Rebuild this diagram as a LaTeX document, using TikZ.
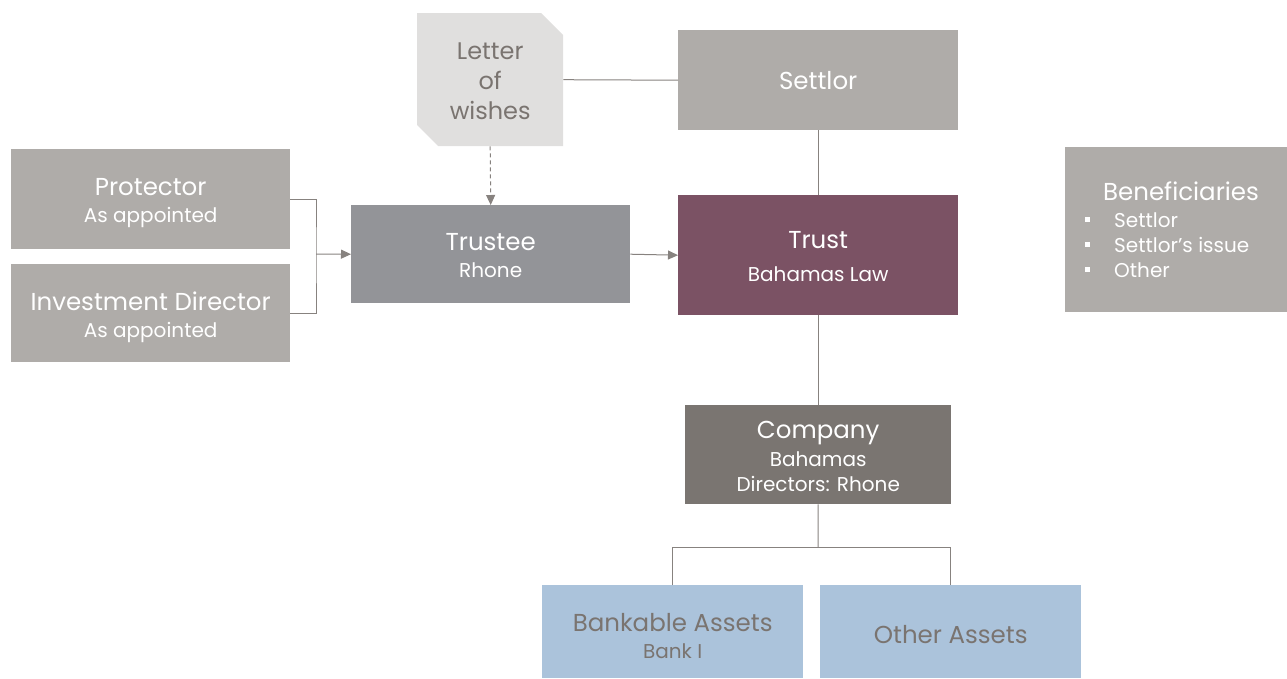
\documentclass[tikz,border=0pt]{standalone}
\usepackage{fontspec}
\setmainfont{Poppins}
\usetikzlibrary{arrows.meta}
\definecolor{boxgrey}{RGB}{175,172,169}
\definecolor{lightbox}{RGB}{224,223,222}
\definecolor{trusteec}{RGB}{147,148,152}
\definecolor{trustc}{RGB}{123,82,100}
\definecolor{companyc}{RGB}{122,117,113}
\definecolor{assetc}{RGB}{171,195,219}
\definecolor{darktext}{RGB}{122,116,112}
\definecolor{linec}{RGB}{135,130,127}
\newcommand\ttl{\fontsize{24.5}{28}\selectfont}
\newcommand\sbt{\fontsize{20}{27}\selectfont}
\begin{document}
\begin{tikzpicture}[x=1pt,y=-1pt,
  box/.style={anchor=north west, inner sep=0pt},
  txt/.style={inner sep=0pt, text=white, align=center, font=\sbt},
  conn/.style={draw=linec, line width=1pt},
  arr/.style={conn, -{Triangle[length=10pt,width=9pt]}}]
\useasboundingbox (0,0) rectangle (1287,678);
% boxes
\fill[lightbox] (417,13) -- (541,13) -- (563,35) -- (563,146) -- (438,146) -- (417,125) -- cycle;
\node[box, minimum width=146pt, minimum height=133pt] (lw) at (417,13) {};
\node[box, fill=boxgrey, minimum width=280pt, minimum height=100pt] (settlor) at (678,30) {};
\node[box, fill=trustc, minimum width=280pt, minimum height=120pt] (trust) at (678,195) {};
\node[box, fill=trusteec, minimum width=279pt, minimum height=98pt] (trustee) at (351,205) {};
\node[box, fill=boxgrey, minimum width=279pt, minimum height=100pt] (prot) at (11,149) {};
\node[box, fill=boxgrey, minimum width=279pt, minimum height=98pt] (inv) at (11,264) {};
\node[box, fill=boxgrey, minimum width=222pt, minimum height=165pt] (ben) at (1065,147) {};
\node[box, fill=companyc, minimum width=266pt, minimum height=99pt] (company) at (685,405) {};
\node[box, fill=assetc, minimum width=261pt, minimum height=93pt] (bank) at (542,585) {};
\node[box, fill=assetc, minimum width=261pt, minimum height=93pt] (other) at (820,585) {};
% texts
\node[txt, text=darktext, font=\fontsize{24}{30}\selectfont] (lwt) at ([yshift=-2pt]lw.center) {Letter\\of\\wishes};
\node[txt, font=\ttl] (settlort) at (settlor.center) {Settlor};
\node[txt] (trustt) at ([yshift=-1pt]trust.center) {{\ttl Trust}\\[6pt]Bahamas Law};
\node[txt] (trusteet) at ([yshift=-1.5pt]trustee.center) {{\ttl Trustee}\\Rhone};
\node[txt] (prott) at ([yshift=-4pt]prot.center) {{\ttl Protector}\\As appointed};
\node[txt] (invt) at ([yshift=-4pt]inv.center) {{\ttl Investment Director}\\As appointed};
\node[anchor=base, text=white, inner sep=0pt, font=\ttl] (bent) at (1181,200) {Beneficiaries};
\foreach \i/\t/\y in {1/Settlor/227, 2/Settlor’s issue/252, 3/Other/277}{
  \fill[white] (1085,\y-10) rectangle (1090,\y-5);
  \node[anchor=base west, text=white, inner sep=0pt, font=\sbt] (b\i) at (1114,\y) {\t};
}
\node[txt] (companyt) at ([yshift=-1.5pt]company.center) {{\ttl Company}\\[1pt]Bahamas\\[-2pt]Directors: Rhone};
\node[txt, text=darktext] (bankt) at ([yshift=-4pt]bank.center) {{\ttl Bankable Assets}\\Bank I};
\node[txt, text=darktext, font=\ttl] (othert) at ([yshift=-3pt]other.center) {Other Assets};
% connectors
\draw[conn] (lw.east) -- (settlor.west);
\draw[conn] (settlor.south) -- (trust.north);
\draw[arr, dash pattern=on 4pt off 3pt] (lw.south) -- (trustee.north);
\draw[arr] (trustee.east) -- (trust.west);
\coordinate (br) at (316,254);
\draw[conn] (prot.east) -| (br) |- (inv.east);
\draw[arr] (br) -- (trustee.west);
\draw[conn] (trust.south) -- (company.north);
\coordinate (split) at (818,547);
\draw[conn] (company.south) -- (split);
\draw[conn] (bank.north) |- (split) -| (other.north);
\end{tikzpicture}
\end{document}
